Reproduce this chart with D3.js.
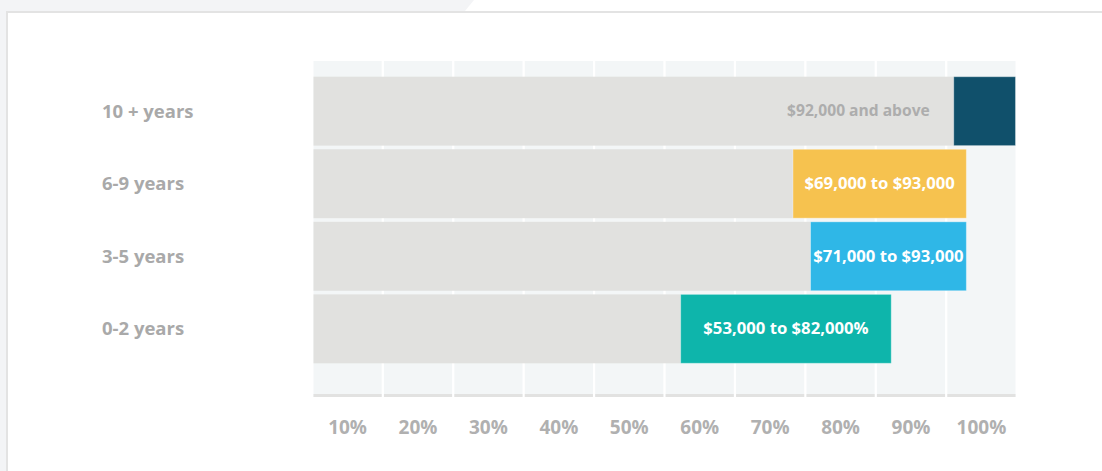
<!DOCTYPE html>
<html><head><meta charset="utf-8">
<script src="https://cdn.jsdelivr.net/npm/d3@7"></script>
<style>html,body{margin:0;padding:0;background:#f3f4f6;overflow:hidden} svg{display:block}</style>
</head><body><svg id="c" width="1102" height="471"></svg>
<script>
const categories = ["10 + years", "6-9 years", "3-5 years", "0-2 years"];
const rangeStart = [91.2, 68.3, 70.8, 52.3];
const rangeEnd = [100, 93, 93, 82.3];
const rangeLabels = ["$92,000 and above", "$69,000 to $93,000", "$71,000 to $93,000", "$53,000 to $82,000%"];
const barColors = ["#10506b", "#f6c24f", "#2fb7e7", "#0eb5ab"];
const tickLabels = ["10%", "20%", "30%", "40%", "50%", "60%", "70%", "80%", "90%", "100%"];

const FONT = "'Open Sans', 'Noto Sans', sans-serif";
const svg = d3.select("#c");

// page frame
svg.append("rect").attr("x", 0).attr("y", 0).attr("width", 1102).attr("height", 471).attr("fill", "#f3f4f6");
svg.append("polygon").attr("points", "465,11 474,0 1102,0 1102,11").attr("fill", "#ffffff");
svg.append("rect").attr("x", 7).attr("y", 12).attr("width", 1200).attr("height", 500)
  .attr("fill", "#ffffff").attr("stroke", "#e3e3e3").attr("stroke-width", 2);

const x = d3.scaleLinear().domain([0, 100]).range([313.5, 1015.5]);
const xBand = d3.scaleBand().domain(tickLabels).range([313.5, 1015.5]).paddingInner(0.032).paddingOuter(0);
const y = d3.scaleBand().domain(categories).range([76.7, 363.3]).paddingInner(0.05).paddingOuter(0);

const plotTop = 61, plotBottom = 397;

// columns (background with gaps acting as gridlines)
const cols = svg.append("g");
cols.selectAll("rect.col").data(tickLabels).join("rect")
  .attr("x", d => xBand(d)).attr("y", plotTop)
  .attr("width", xBand.bandwidth()).attr("height", plotBottom - plotTop)
  .attr("fill", "#f3f6f7");
cols.selectAll("rect.base").data(tickLabels).join("rect")
  .attr("x", d => xBand(d)).attr("y", plotBottom - 3)
  .attr("width", xBand.bandwidth()).attr("height", 3)
  .attr("fill", "#e2e2e1");

const rows = categories.map((c, i) => ({c, s: rangeStart[i], e: rangeEnd[i], label: rangeLabels[i], color: barColors[i], i}));

// grey base bars
svg.append("g").selectAll("rect").data(rows).join("rect")
  .attr("x", x(0)).attr("y", d => y(d.c))
  .attr("width", d => x(d.s) - x(0)).attr("height", y.bandwidth())
  .attr("fill", "#e1e1df");

// coloured range bars
svg.append("g").selectAll("rect").data(rows).join("rect")
  .attr("x", d => x(d.s)).attr("y", d => y(d.c))
  .attr("width", d => x(d.e) - x(d.s)).attr("height", y.bandwidth())
  .attr("fill", d => d.color)
  .attr("stroke", "rgba(255,255,255,0.35)").attr("stroke-width", 1);

// range labels
svg.append("g").selectAll("text").data(rows).join("text")
  .attr("x", d => d.i === 0 ? x(d.s) - 24 : (x(d.s) + x(d.e)) / 2)
  .attr("y", d => y(d.c) + y.bandwidth() / 2 - 1)
  .attr("text-anchor", d => d.i === 0 ? "end" : "middle")
  .attr("dominant-baseline", "central")
  .attr("font-family", FONT).attr("font-weight", 700)
  .attr("font-size", d => d.i === 0 ? 15.6 : 16.7)
  .attr("fill", d => d.i === 0 ? "#adadad" : "#ffffff")
  .text(d => d.label);

// category labels
svg.append("g").selectAll("text").data(categories).join("text")
  .attr("x", 102).attr("y", d => y(d) + y.bandwidth() / 2 - 1)
  .attr("dominant-baseline", "central")
  .attr("font-family", FONT).attr("font-weight", 700).attr("font-size", 18.5)
  .attr("fill", "#a9a9a9")
  .text(d => d);

// x tick labels
svg.append("g").selectAll("text").data(tickLabels).join("text")
  .attr("x", d => xBand(d) + xBand.bandwidth() / 2).attr("y", 427)
  .attr("text-anchor", "middle").attr("dominant-baseline", "central")
  .attr("font-family", FONT).attr("font-weight", 700).attr("font-size", 19)
  .attr("fill", "#b0b0b0")
  .text(d => d);
</script>
</body></html>
